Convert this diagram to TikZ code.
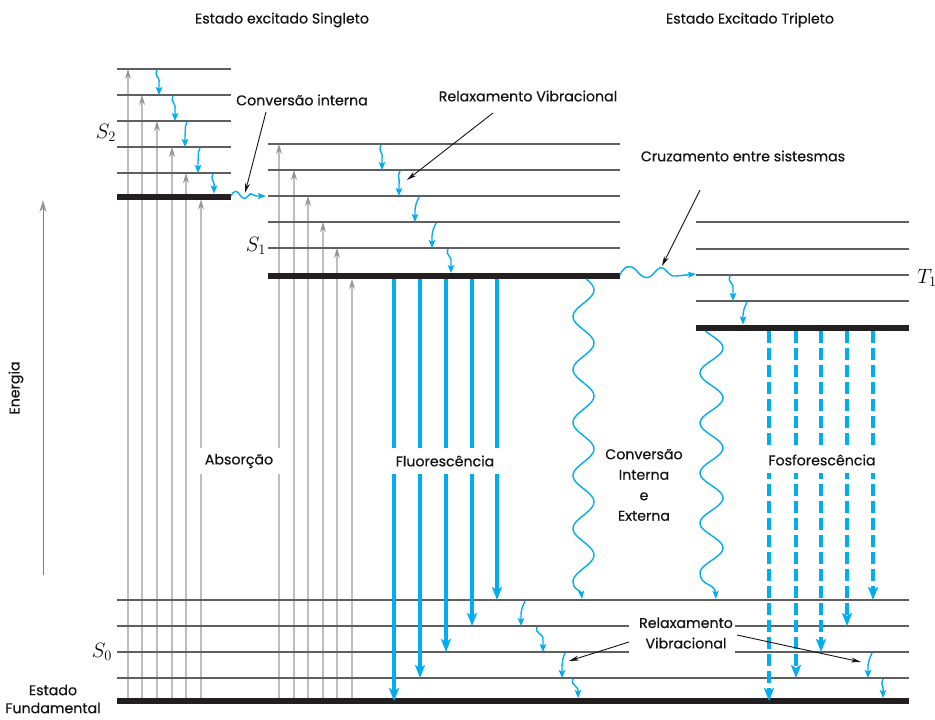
\documentclass[tikz,border=0pt]{standalone}
\usepackage{fontspec}
\setmainfont{Poppins}
\newfontfamily\labfont{Poppins}[FakeBold=0.5]
\usetikzlibrary{arrows.meta}
\definecolor{vblue}{RGB}{0,174,239}
\definecolor{lvl}{RGB}{95,95,95}
\definecolor{thk}{RGB}{35,31,32}
\definecolor{absg}{RGB}{190,190,190}
\definecolor{absh}{RGB}{150,150,150}
\definecolor{txt}{RGB}{20,20,20}
\tikzset{
  level/.style={draw=lvl, line width=1.3},
  thicklvl/.style={draw=thk, line width=6},
  absarr/.style={draw=absg, line width=1.2, -{Stealth[length=10pt,width=6pt,color=absh]}},
  vib/.style={draw=vblue, line width=1.4, -{Stealth[length=8pt,width=6.5pt,inset=1.5pt]}},
  fluor/.style={draw=vblue, line width=4, -{Stealth[length=13pt,width=10pt,inset=3pt]}},
  phos/.style={fluor, dash pattern=on 12.5pt off 4.5pt},
  wave/.style={draw=vblue, line width=1.4},
  lab/.style={font=\labfont\fontsize{14.2}{20.5}\selectfont, text=txt, inner sep=0pt, align=center},
  sym/.style={font=\fontsize{20}{20}\selectfont, inner sep=0pt},
  pointer/.style={draw=txt, line width=0.9, -{Stealth[length=10pt,width=5pt]}}
}
\newcommand{\vibarr}[4]{\draw[vib] (#1,#2) .. controls (#1-3,#2+7) and (#3+1,#2+6) .. (#3,#2+13) -- (#3,#4);}
\begin{document}
\begin{tikzpicture}[x=1pt,y=-1pt]
\useasboundingbox[fill=white] (0,0) rectangle (935,720);
% absorption arrows
\foreach \xx/\yy in {128/69,142/95,157/121,172/147,186/173,201/199.5}
  \draw[absarr] (\xx,701) -- (\xx,\yy);
\foreach \xx/\yy in {279/144,294/170,308/196,323/222,337/248,352/279}
  \draw[absarr] (\xx,701) -- (\xx,\yy);
\node[lab, fill=white, minimum width=82pt, minimum height=26pt] (abs) at (239,461) {Absorção};
% energy axis
\coordinate (e0) at (43,575);
\coordinate (e1) at (43,200);
\draw[draw=gray, line width=1, -{Stealth[length=12pt,width=7pt,color=absh]}] (e0) -- (e1);
\node[lab, rotate=90] (energia) at (16,388) {Energia};
% levels S2
\foreach \yy in {69,95,121,147,173} \draw[level] (117,\yy) -- (231,\yy);
\draw[thicklvl] (117,196.5) -- (231,196.5);
% levels S1
\foreach \yy in {144,170,196,222,248} \draw[level] (268,\yy) -- (620,\yy);
\draw[thicklvl] (268,276) -- (620,276);
% levels T1
\foreach \yy in {222,249,275,301} \draw[level] (696,\yy) -- (909,\yy);
\draw[thicklvl] (696,327.5) -- (909,327.5);
% levels S0
\foreach \yy in {600,678} \draw[level] (117,\yy) -- (909,\yy);
\foreach \yy in {626,652} {\draw[level] (117,\yy) -- (629,\yy); \draw[level] (735,\yy) -- (909,\yy);}
\draw[thicklvl] (117,701) -- (909,701);
% vibrational relaxation arrows
\vibarr{157}{70}{159}{95}
\vibarr{173}{96}{175}{121}
\vibarr{187}{122}{185}{147}
\vibarr{200}{148}{198}{173}
\vibarr{213}{174}{214}{193.5}
\vibarr{381}{145}{382}{170}
\vibarr{400}{171}{399}{196}
\vibarr{419}{197}{415}{222}
\vibarr{436}{223}{432}{248}
\vibarr{448}{249}{451}{273}
\vibarr{730}{276}{733}{301}
\vibarr{747}{302}{743}{324.5}
\vibarr{525}{601}{521}{626}
\vibarr{537}{627}{543}{652}
\vibarr{565}{653}{562}{678}
\vibarr{573}{679}{578}{698}
\vibarr{872}{653}{868}{678}
\vibarr{883}{679}{883}{698}
% internal conversion S2 -> S1
\draw[wave, -{Stealth[length=8pt,width=6pt,inset=1.5pt]}] (231,196) .. controls (234,190) and (237,190) .. (240,195)
  .. controls (243,200) and (246,199) .. (249,195) .. controls (251,192) and (253,196) .. (256,196) -- (266,196);
% intersystem crossing
\draw[wave, -{Stealth[length=8pt,width=6pt,inset=1.5pt]}] (620,275) .. controls (624,266) and (630,264) .. (636,270)
  .. controls (641,276) and (645,280) .. (651,276) .. controls (656,272) and (658,266) .. (663,268)
  .. controls (667,270) and (669,277) .. (676,276) -- (696,274);
% big wavy S1 -> S0
\draw[wave] plot[domain=279:583, samples=160, smooth] ({583.5+10.5*cos((\x-290)*6.7925)},\x);
\draw[wave, -{Stealth[length=8pt,width=6pt,inset=1.5pt]}] (573.2,583) .. controls (574,591) and (581,590) .. (582,599);
% wavy T1 -> S0
\draw[wave] plot[domain=331:573, samples=140, smooth] ({711.5+11.5*cos((\x-348)*7.2)},\x);
\draw[wave, -{Stealth[length=8pt,width=6pt,inset=1.5pt]}] (700,573) .. controls (700,586) and (715,583) .. (716,599);
% fluorescence
\foreach \xx/\yy in {394/701,420/678,446/652,472/626,497/600}
  \draw[fluor] (\xx,279) -- (\xx,\yy);
\node[lab, fill=white, minimum width=116pt, minimum height=26pt] (fluo) at (445,461) {Fluorescência};
% phosphorescence
\foreach \xx/\yy in {769/701,796/678,821/652,847/626,873/600}
  \draw[phos] (\xx,330.5) -- (\xx,\yy);
\node[lab, fill=white, minimum width=114pt, minimum height=26pt] (fosf) at (822,460) {Fosforescência};
% texts
\node[lab] (t1) at (282,20) {Estado excitado Singleto};
\node[lab] (t2) at (750,20) {Estado Excitado Tripleto};
\node[lab] (ci) at (302,100) {Conversão interna};
\node[lab] (rv) at (528,96) {Relaxamento Vibracional};
\node[lab] (cs) at (743,156) {Cruzamento entre sistesmas};
\node[lab] (cie) at (644,485) {Conversão\\Interna\\e\\Externa};
\node[lab] (rv2) at (686,633) {Relaxamento\\Vibracional};
\node[lab, font=\labfont\fontsize{14.2}{18}\selectfont] (ef) at (53,699) {Estado\\Fundamental};
\node[sym] (s2) at (106,133) {$S_2$};
\node[sym] (s1) at (256,246) {$S_1$};
\node[sym] (s0) at (102,652) {$S_0$};
\node[sym] (tt1) at (927,278) {$T_1$};
% pointers
\coordinate (p1a) at (266,112); \coordinate (p1b) at (245,193);
\draw[pointer] (p1a) -- (p1b);
\coordinate (p2a) at (493,113); \coordinate (p2b) at (407,180);
\draw[pointer] (p2a) -- (p2b);
\coordinate (p3a) at (700,190); \coordinate (p3b) at (662,266);
\draw[pointer] (p3a) -- (p3b);
\coordinate (p4a) at (629,642); \coordinate (p4b) at (569,661);
\draw[pointer] (p4a) -- (p4b);
\coordinate (p5a) at (737,635); \coordinate (p5b) at (861,662);
\draw[pointer] (p5a) -- (p5b);
\end{tikzpicture}
\end{document}
